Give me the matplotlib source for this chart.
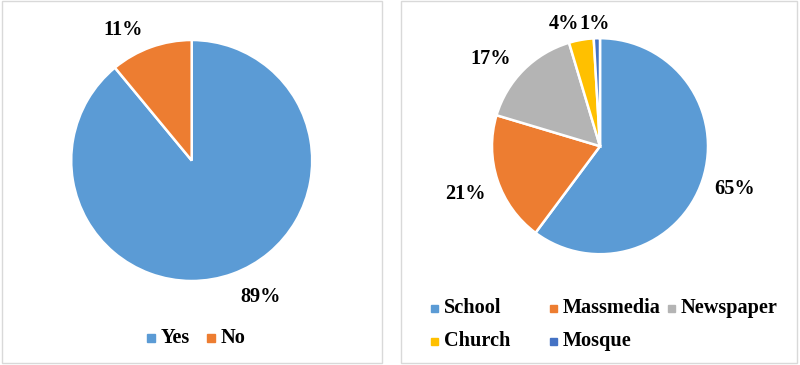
import matplotlib.pyplot as plt
from matplotlib.patches import Rectangle

plt.rcParams['font.family'] = ['Liberation Serif', 'DejaVu Serif']

# data
answer_labels = ['Yes', 'No']
answer_values = [89, 11]
answer_colors = ['#5B9BD5', '#ED7D31']

source_labels = ['School', 'Massmedia', 'Newspaper', 'Church', 'Mosque']
source_values = [65, 21, 17, 4, 1]
source_colors = ['#5B9BD5', '#ED7D31', '#B4B4B4', '#FFC000', '#4472C4']

W, H = 800, 365
FS = 14.6
fig = plt.figure(figsize=(W / 100, H / 100), dpi=100)
ax = fig.add_axes([0, 0, 1, 1])


def draw_pie(values, colors, center, radius, dist, nudges):
    """pie with value labels outside, nudged a bit like excel does"""
    wedges, texts = ax.pie(values, colors=colors, startangle=90,
                           counterclock=False, center=center, radius=radius,
                           labels=[f'{v}%' for v in values],
                           labeldistance=dist,
                           wedgeprops=dict(edgecolor='white', linewidth=1.8),
                           textprops=dict(fontsize=FS, fontweight='bold'))
    for t, (dx, dy) in zip(texts, nudges):
        x, y = t.get_position()
        t.set_position((x + dx, y + dy))
        t.set_ha('center')
        t.set_va('center')
    return wedges


def draw_legend(labels, colors, x0, y0, col_w, row_h, ncol, box):
    for i, (lab, col) in enumerate(zip(labels, colors)):
        r, c = divmod(i, ncol)
        x = x0 + c * col_w
        y = y0 - r * row_h
        ax.add_patch(Rectangle((x, y - box / 2), box, box, color=col))
        ax.text(x + box + 6, y, lab, fontsize=FS, fontweight='bold',
                ha='left', va='center')


# panel frames
for x0, x1 in [(2, 382), (401, 797)]:
    ax.add_patch(Rectangle((x0, H - 363), x1 - x0, 362, fill=False,
                           edgecolor='#D9D9D9', linewidth=1))

# left pie
draw_pie(answer_values, answer_colors, (191.7, H - 160.5), 120.5, 1.25,
         [(17.5, 5), (-18, -11)])
draw_legend(answer_labels, answer_colors, 147, H - 338, 60, 0, 2, 8)

# right pie
draw_pie(source_values, source_colors, (600, H - 146.2), 108, 1.31,
         [(0.7, 1.4), (0, -3.6), (-9.5, -13), (-11.4, -17.3), (-1.8, -19.4)])
draw_legend(source_labels, source_colors, 431, H - 308, 118.5, 33, 3, 7)

ax.set_xlim(0, W)
ax.set_ylim(0, H)
ax.set_aspect('auto')
ax.axis('off')

fig.savefig('out.png', dpi=100)
